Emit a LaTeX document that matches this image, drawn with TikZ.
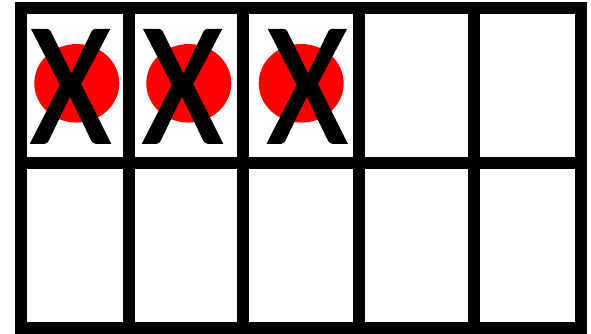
\documentclass[tikz,border=0pt]{standalone}
\usepackage{fontspec}
\setmainfont{Carlito}
\newfontfamily\crossfont[FakeBold=1.5]{Carlito}
\begin{document}
\begin{tikzpicture}[x=1pt,y=-1pt,
  gridline/.style={line width=12pt,black},
  counter/.style={fill=red,draw=none},
  cross/.style={inner sep=0pt,outer sep=0pt,font=\crossfont\fontsize{175}{175}\selectfont}]
\useasboundingbox (0,0) rectangle (591,334);
% counters
\fill[counter] (76.8,83.3) ellipse [x radius=42.5, y radius=39.3];
\fill[counter] (188.8,83.3) ellipse [x radius=42.5, y radius=39.3];
\fill[counter] (301.2,83.3) ellipse [x radius=42.5, y radius=39.3];
\node[cross] (x1) at (70.5,86.3) {\scalebox{0.87}[1]{X}};
\node[cross] (x2) at (182.5,86.3) {\scalebox{0.87}[1]{X}};
\node[cross] (x3) at (307.2,86.3) {\scalebox{0.87}[1]{X}};
% grid
\draw[gridline] (21,8) rectangle (581,328);
\draw[gridline] (15,163) -- (587,163);
\draw[gridline] (128.5,2) -- (128.5,334);
\draw[gridline] (243.3,2) -- (243.3,334);
\draw[gridline] (359,2) -- (359,334);
\draw[gridline] (473.5,2) -- (473.5,334);
\end{tikzpicture}
\end{document}
